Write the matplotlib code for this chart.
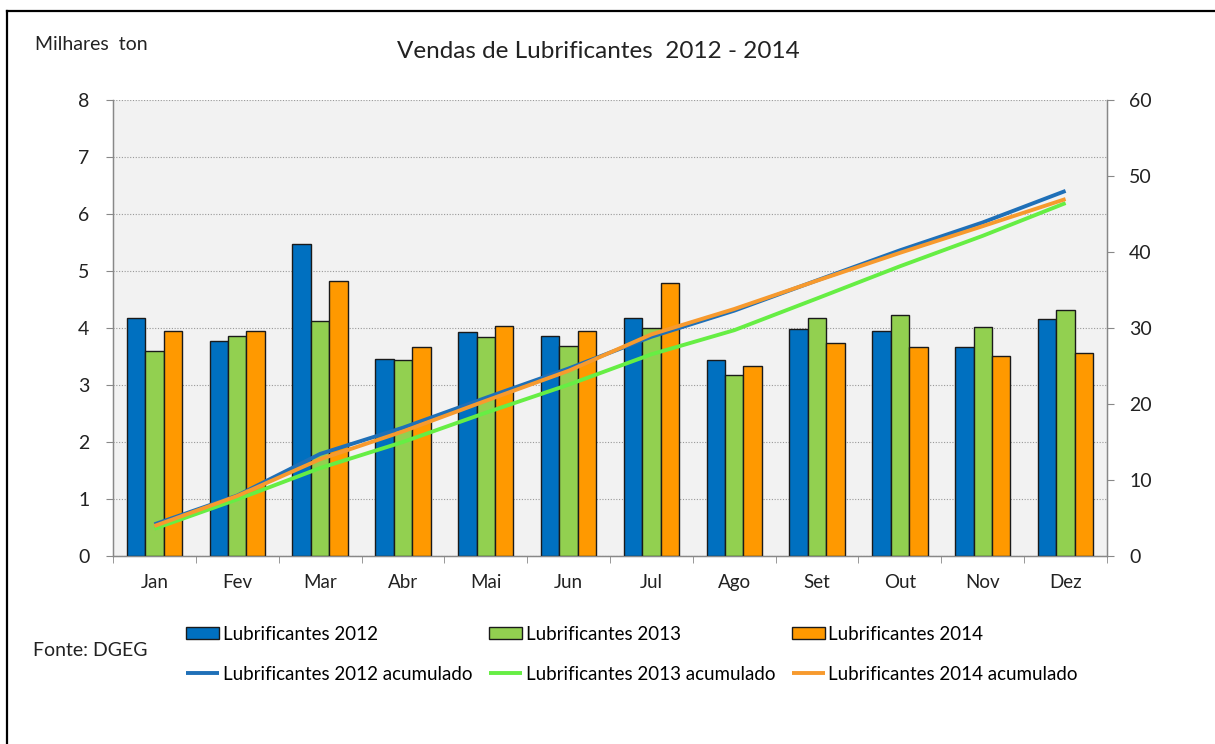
import matplotlib
matplotlib.use("Agg")
import matplotlib.pyplot as plt
import numpy as np
from matplotlib.lines import Line2D

plt.rcParams['font.family'] = ['Lato', 'DejaVu Sans']

months = ["Jan", "Fev", "Mar", "Abr", "Mai", "Jun", "Jul", "Ago", "Set", "Out", "Nov", "Dez"]
v2012 = [4.17, 3.78, 5.48, 3.45, 3.93, 3.86, 4.18, 3.43, 3.99, 3.95, 3.67, 4.15]
v2013 = [3.59, 3.86, 4.12, 3.43, 3.85, 3.69, 4.00, 3.17, 4.18, 4.23, 4.01, 4.31]
v2014 = [3.95, 3.95, 4.83, 3.66, 4.03, 3.95, 4.79, 3.34, 3.73, 3.66, 3.51, 3.57]
acc2012 = [4.17, 7.95, 13.43, 16.88, 20.81, 24.67, 28.85, 32.28, 36.27, 40.22, 43.89, 48.04]
acc2013 = [3.59, 7.45, 11.57, 15.00, 18.85, 22.54, 26.54, 29.71, 33.89, 38.12, 42.13, 46.44]
acc2014 = [3.95, 7.90, 12.73, 16.39, 20.42, 24.37, 29.16, 32.50, 36.23, 39.89, 43.40, 46.97]
left_ticks = [0, 1, 2, 3, 4, 5, 6, 7, 8]
right_ticks = [0, 10, 20, 30, 40, 50, 60]

W, H = 1215, 744
fig = plt.figure(figsize=(W / 100, H / 100), dpi=100)
fig.patch.set_facecolor("white")
ax = fig.add_axes([113 / W, 1 - 556 / H, (1107 - 113) / W, (556 - 100) / H])
ax.set_facecolor("#F2F2F2")

x = np.arange(len(months))
bw = 0.223
bar_colors = ["#0070C0", "#92D050", "#FF9900"]
bars = []
for i, (vals, c, lab) in enumerate(zip([v2012, v2013, v2014], bar_colors,
                                      ["Lubrificantes 2012", "Lubrificantes 2013", "Lubrificantes 2014"])):
    b = ax.bar(x + (i - 1) * bw, vals, width=bw, color=c, edgecolor="#1a1a1a", linewidth=1.0,
               label=lab, zorder=3)
    bars.append(b)

ax.set_xlim(-0.5, 11.5)
ax.set_ylim(0, 8)
ax.set_yticks(left_ticks)
ax.set_yticklabels([str(t) for t in left_ticks], fontsize=14, color="#222222")
ax.yaxis.grid(True, linestyle=(0, (1, 1.5)), color="#999999", linewidth=0.8, zorder=0)
ax.set_axisbelow(True)
ax.set_xticks(x)
ax.set_xticklabels(months, fontsize=13.5, color="#222222")
ax.set_xticks(np.arange(-0.5, 12, 1), minor=True)
ax.tick_params(axis="x", which="major", length=0, pad=13)
ax.tick_params(axis="x", which="minor", length=5, color="#888888", direction="out")
ax.tick_params(axis="y", length=5, color="#888888", direction="out", pad=12)
ax.spines["top"].set_visible(False)
for s in ["left", "bottom", "right"]:
    ax.spines[s].set_color("#888888")
    ax.spines[s].set_linewidth(1.0)

ax2 = ax.twinx()
ax2.set_ylim(0, 60)
ax2.set_yticks(right_ticks)
ax2.set_yticklabels([str(t) for t in right_ticks], fontsize=14, color="#222222")
ax2.tick_params(axis="y", length=5, color="#888888", direction="out", pad=11)
ax2.spines["top"].set_visible(False)
for s in ["left", "bottom", "right"]:
    ax2.spines[s].set_color("#888888")
line_colors = ["#1F70B8", "#66EE44", "#F79A2E"]
lines = []
for vals, c, lab in zip([acc2012, acc2013, acc2014], line_colors,
                        ["Lubrificantes 2012 acumulado", "Lubrificantes 2013 acumulado",
                         "Lubrificantes 2014 acumulado"]):
    ln, = ax2.plot(x, vals, color=c, linewidth=2.8, label=lab, zorder=4,
                   solid_capstyle="butt")
    lines.append(ln)

handles = [bars[0], lines[0], bars[1], lines[1], bars[2], lines[2]]
labels = [h.get_label() for h in handles]
fig.legend(handles, labels, ncol=3, loc="upper left",
           bbox_to_anchor=(186 / W, 1 - 626 / H), frameon=False, fontsize=13.5,
           handlelength=1.75, handletextpad=0.2, columnspacing=0.9,
           labelspacing=1.2, borderpad=0, borderaxespad=0, handleheight=0.6)

fig.text(0.5 * (398 + 798) / W, 1 - 52 / H, "Vendas de Lubrificantes  2012 - 2014",
         ha="center", va="center", fontsize=17.5, color="#222222")
fig.text(35 / W, 1 - 45 / H, "Milhares  ton", ha="left", va="center", fontsize=14,
         color="#222222")
fig.text(33 / W, 1 - 651 / H, "Fonte: DGEG", ha="left", va="center", fontsize=14,
         color="#222222")

fig.add_artist(Line2D([7 / W, 1], [1 - 10.5 / H, 1 - 10.5 / H], transform=fig.transFigure,
                      color="black", linewidth=1.6))
fig.add_artist(Line2D([7 / W, 7 / W], [0, 1 - 10.5 / H], transform=fig.transFigure,
                      color="black", linewidth=1.6))

fig.savefig("out.png", dpi=100)
